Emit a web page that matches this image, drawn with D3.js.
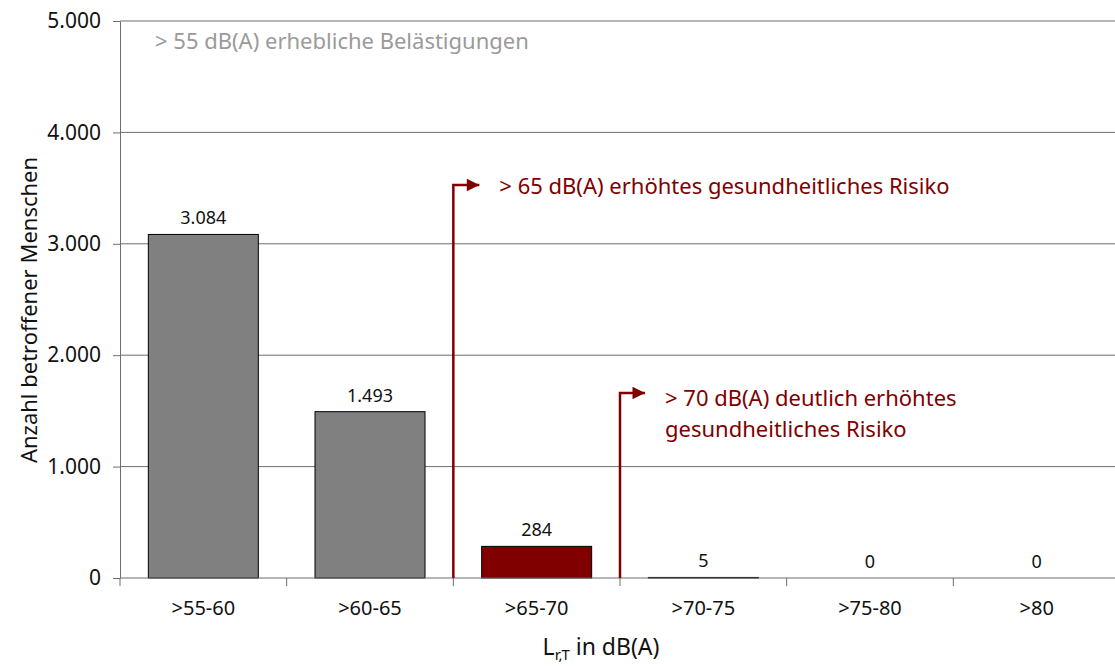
<!DOCTYPE html>
<html>
<head>
<meta charset="utf-8">
<script src="https://cdn.jsdelivr.net/npm/d3@7"></script>
<style>
  body { margin: 0; background: #fff; }
  svg { font-family: "Noto Sans", "Open Sans", sans-serif; }
</style>
</head>
<body>
<svg id="chart" width="1115" height="666"></svg>
<script>
var categories = [">55-60", ">60-65", ">65-70", ">70-75", ">75-80", ">80"];
var values = [3084, 1493, 284, 5, 0, 0];
var barColors = ["#808080", "#808080", "#800000", "#800000", "#800000", "#800000"];
var yTicks = [0, 1000, 2000, 3000, 4000, 5000];

var de = d3.formatLocale({decimal: ",", thousands: ".", grouping: [3], currency: ["", " €"]});
var fmt = de.format(",");

var svg = d3.select("#chart");

var x = d3.scaleBand().domain(categories).range([120, 1120]).paddingInner(0.34).paddingOuter(0.17);
var y = d3.scaleLinear().domain([0, 5000]).range([578, 21]);

// gridlines
svg.append("g").selectAll("line").data(yTicks.slice(1))
  .join("line")
    .attr("x1", 120).attr("x2", 1115)
    .attr("y1", d => y(d)).attr("y2", d => y(d))
    .attr("stroke", "#6e6e6e").attr("stroke-width", 1);

// bars
svg.append("g").selectAll("rect").data(values)
  .join("rect")
    .attr("x", (d, i) => x(categories[i]))
    .attr("width", x.bandwidth())
    .attr("y", d => y(d))
    .attr("height", d => y(0) - y(d))
    .attr("fill", (d, i) => barColors[i])
    .attr("stroke", "#000").attr("stroke-width", 1);

// value labels
svg.append("g").selectAll("text").data(values)
  .join("text")
    .attr("x", (d, i) => x(categories[i]) + x.bandwidth() / 2)
    .attr("y", d => y(d) - 10)
    .attr("text-anchor", "middle")
    .attr("font-size", 18)
    .attr("fill", "#111")
    .text(d => fmt(d));

// y axis
var yAxis = svg.append("g").attr("transform", "translate(120,0)")
  .call(d3.axisLeft(y).tickValues(yTicks).tickFormat(fmt).tickSize(7).tickSizeOuter(0));
yAxis.select(".domain").attr("stroke", "#6e6e6e");
yAxis.selectAll(".tick line").attr("stroke", "#6e6e6e");
yAxis.selectAll("text").attr("font-size", 21).attr("fill", "#111").attr("x", -19)
  .style("font-family", "Noto Sans, sans-serif");

// x axis
var step = x.step();
var xAxis = svg.append("g").attr("transform", "translate(0,578)");
xAxis.append("line").attr("x1", 120).attr("x2", 1115).attr("stroke", "#6e6e6e");
xAxis.selectAll(".tk").data(d3.range(categories.length))
  .join("line").attr("class", "tk")
    .attr("x1", i => 120 + i * step).attr("x2", i => 120 + i * step)
    .attr("y1", 0).attr("y2", 8).attr("stroke", "#6e6e6e");
xAxis.selectAll("text").data(categories)
  .join("text")
    .attr("x", d => x(d) + x.bandwidth() / 2)
    .attr("y", 37)
    .attr("text-anchor", "middle")
    .attr("font-size", 20).attr("fill", "#111")
    .text(d => d);

// axis titles
svg.append("text")
  .attr("transform", "translate(37,310) rotate(-90)")
  .attr("text-anchor", "middle")
  .attr("font-size", 22).attr("fill", "#111")
  .text("Anzahl betroffener Menschen");

var xt = svg.append("text")
  .attr("x", 601).attr("y", 655)
  .attr("text-anchor", "middle")
  .attr("font-size", 23).attr("fill", "#111");
xt.append("tspan").text("L");
xt.append("tspan").attr("font-size", 15).attr("dy", 5).text("r,T");
xt.append("tspan").attr("dy", -5).text(" in dB(A)");

// annotations
svg.append("text")
  .attr("x", 155).attr("y", 49)
  .attr("font-size", 22).attr("fill", "#9a9a9a")
  .text("> 55 dB(A) erhebliche Belästigungen");

var red = "#800000";
svg.append("defs").append("marker")
  .attr("id", "arr").attr("viewBox", "0 0 10 10")
  .attr("refX", 10).attr("refY", 5)
  .attr("markerWidth", 5.5).attr("markerHeight", 5)
  .attr("markerUnits", "strokeWidth")
  .attr("orient", "auto")
  .append("path").attr("d", "M0,0L10,5L0,10Z").attr("fill", red);

var arrows = [
  {cat: 2, top: 185, len: 26},
  {cat: 3, top: 393, len: 25}
];
svg.append("g").selectAll("path").data(arrows)
  .join("path")
    .attr("d", d => {
      var bx = 120 + d.cat * step;
      return "M" + bx + "," + y(0) + "V" + d.top + "H" + (bx + d.len);
    })
    .attr("fill", "none").attr("stroke", red).attr("stroke-width", 2.5)
    .attr("marker-end", "url(#arr)");

svg.append("text")
  .attr("x", 120 + 2 * step + 46).attr("y", 194)
  .attr("font-size", 22).attr("fill", red)
  .text("> 65 dB(A) erhöhtes gesundheitliches Risiko");

var t2 = svg.append("text")
  .attr("x", 120 + 3 * step + 45).attr("y", 406)
  .attr("font-size", 22).attr("fill", red);
t2.append("tspan").attr("x", 120 + 3 * step + 45).text("> 70 dB(A) deutlich erhöhtes");
t2.append("tspan").attr("x", 120 + 3 * step + 45).attr("dy", 31).text("gesundheitliches Risiko");
</script>
</body>
</html>
